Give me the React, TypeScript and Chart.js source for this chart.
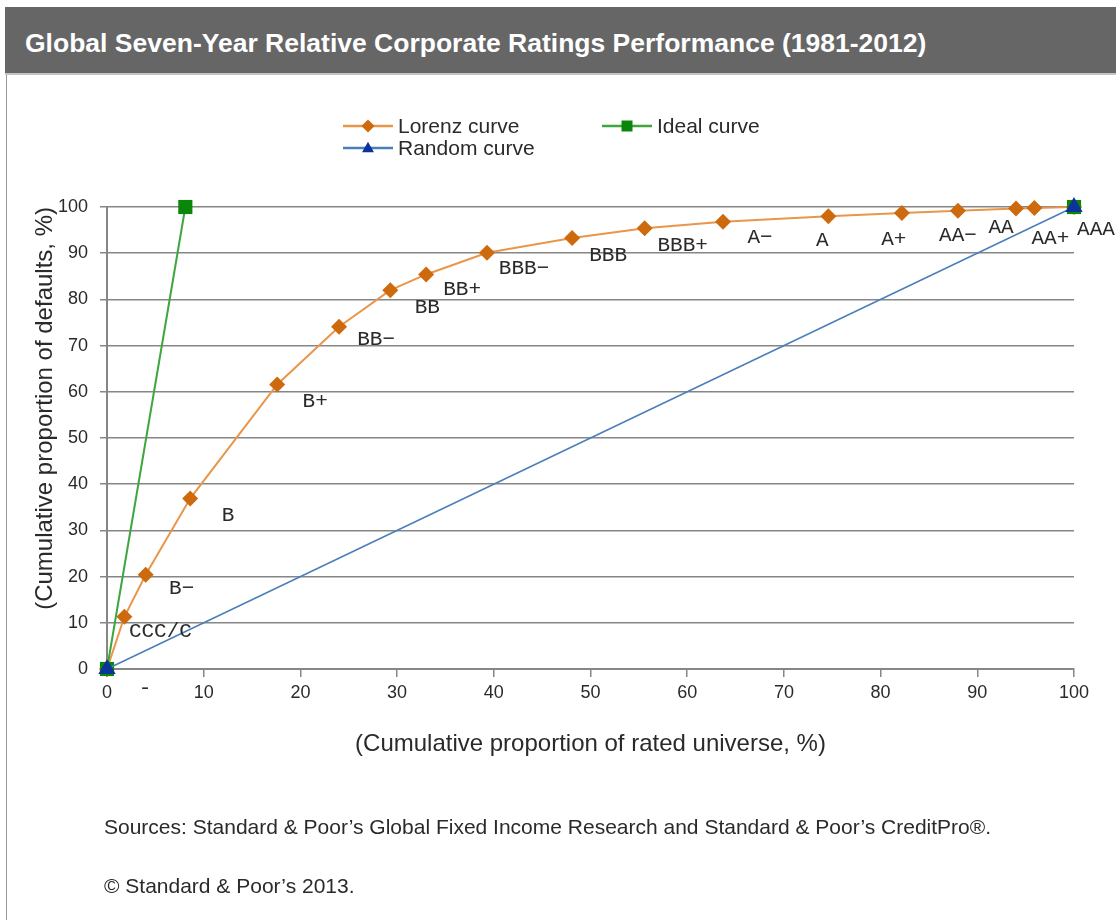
import React, { useEffect, useRef } from 'react';
import { Chart, registerables } from 'chart.js';

Chart.register(...registerables);

// ---------- Data ----------
const TITLE = 'Global Seven-Year Relative Corporate Ratings Performance (1981-2012)';
const X_TITLE = '(Cumulative proportion of rated universe, %)';
const Y_TITLE = '(Cumulative proportion of defaults, %)';
const SOURCES = 'Sources: Standard & Poor\u2019s Global Fixed Income Research and Standard & Poor\u2019s CreditPro\u00AE.';
const COPYRIGHT = '\u00A9 Standard & Poor\u2019s 2013.';

const SERIES_NAMES = ['Lorenz curve', 'Ideal curve', 'Random curve'];

const lorenzX = [0, 1.8, 4.0, 8.6, 17.6, 24.0, 29.3, 33.0, 39.3, 48.1, 55.6, 63.7, 74.6, 82.2, 88.0, 94.0, 95.9, 100];
const lorenzY = [0, 11.3, 20.4, 36.9, 61.6, 74.1, 82.0, 85.4, 90.1, 93.3, 95.4, 96.8, 98.0, 98.7, 99.2, 99.7, 99.8, 100];
const ratingLabels = ['-', 'CCC/C', 'B\u2212', 'B', 'B+', 'BB\u2212', 'BB', 'BB+', 'BBB\u2212', 'BBB', 'BBB+', 'A\u2212', 'A', 'A+', 'AA\u2212', 'AA', 'AA+', 'AAA'];

const idealX = [0, 8.1, 100];
const idealY = [0, 100, 100];

const randomX = [0, 100];
const randomY = [0, 100];

const AXIS_MIN = 0;
const AXIS_MAX = 100;
const AXIS_STEP = 10;

// ---------- Styling / placement (not data) ----------
const LABEL_OFFSETS: [number, number][] = [
  [38, 19], [36, 15], [36, 14], [38, 17], [38, 17], [37, 13], [37, 17], [36, 15], [37, 16],
  [36, 17], [38, 17], [37, 16], [-6, 24], [-8, 26], [0, 25], [-15, 19], [16, 31], [22, 22],
];
const LEGEND_POS = [
  { x: 343, y: 126 },
  { x: 602, y: 126 },
  { x: 343, y: 148 },
];
const COLORS = {
  lorenzLine: '#E8964A',
  lorenzPoint: '#CD6A0E',
  idealLine: '#3FA63F',
  idealPoint: '#0A860A',
  randomLine: '#4A7EBB',
  randomPoint: '#0B3399',
  grid: '#868686',
  text: '#2a2a2a',
};
const SANS = '"Liberation Sans", Arial, sans-serif';
const MONO = '"Liberation Mono", "Courier New", monospace';

const toPoints = (xs: number[], ys: number[]) => xs.map((x, i) => ({ x, y: ys[i] }));

function drawMarker(ctx: CanvasRenderingContext2D, style: string, x: number, y: number, r: number, color: string) {
  ctx.save();
  ctx.fillStyle = color;
  ctx.beginPath();
  if (style === 'rectRot') {
    ctx.moveTo(x, y - r);
    ctx.lineTo(x + r, y);
    ctx.lineTo(x, y + r);
    ctx.lineTo(x - r, y);
  } else if (style === 'rect') {
    ctx.rect(x - r, y - r, 2 * r, 2 * r);
  } else {
    const h = r * 1.5;
    ctx.moveTo(x, y - h * 0.6);
    ctx.lineTo(x + r * 0.85, y + h * 0.4);
    ctx.lineTo(x - r * 0.85, y + h * 0.4);
  }
  ctx.closePath();
  ctx.fill();
  ctx.restore();
}

const ratingLabelPlugin = {
  id: 'ratingLabels',
  afterDatasetsDraw(chart: any) {
    const ctx = chart.ctx as CanvasRenderingContext2D;
    const meta = chart.getDatasetMeta(0);
    ctx.save();
    ctx.font = `21px ${MONO}`;
    ctx.fillStyle = COLORS.text;
    ctx.textAlign = 'center';
    ctx.textBaseline = 'middle';
    meta.data.forEach((pt: any, i: number) => {
      const [dx, dy] = LABEL_OFFSETS[i] || [30, 15];
      ctx.fillText(ratingLabels[i], pt.x + dx, pt.y + dy);
    });
    ctx.restore();
  },
};

const legendPlugin = {
  id: 'customLegend',
  afterDraw(chart: any) {
    const ctx = chart.ctx as CanvasRenderingContext2D;
    const markerSizes = [6.5, 5.5, 7];
    chart.data.datasets.forEach((ds: any, i: number) => {
      const p = LEGEND_POS[i];
      ctx.save();
      ctx.strokeStyle = ds.borderColor;
      ctx.lineWidth = 2.5;
      ctx.beginPath();
      ctx.moveTo(p.x, p.y);
      ctx.lineTo(p.x + 50, p.y);
      ctx.stroke();
      drawMarker(ctx, ds.pointStyle, p.x + 25, p.y, markerSizes[i], ds.pointBackgroundColor);
      ctx.font = `21px ${SANS}`;
      ctx.fillStyle = COLORS.text;
      ctx.textAlign = 'left';
      ctx.textBaseline = 'middle';
      ctx.fillText(ds.label, p.x + 55, p.y + 1);
      ctx.restore();
    });
  },
};

export default function App() {
  const canvasRef = useRef<HTMLCanvasElement | null>(null);

  useEffect(() => {
    if (!canvasRef.current) return;
    const chart = new Chart(canvasRef.current, {
      type: 'scatter',
      data: {
        datasets: [
          {
            label: SERIES_NAMES[0],
            data: toPoints(lorenzX, lorenzY),
            showLine: true,
            borderColor: COLORS.lorenzLine,
            borderWidth: 2,
            pointStyle: 'rectRot',
            pointRadius: 8,
            pointBackgroundColor: COLORS.lorenzPoint,
            pointBorderColor: COLORS.lorenzPoint,
            pointBorderWidth: 0,
            clip: false,
            order: 3,
          },
          {
            label: SERIES_NAMES[1],
            data: toPoints(idealX, idealY),
            showLine: true,
            borderColor: COLORS.idealLine,
            borderWidth: 2,
            segment: {
              borderColor: (c: any) => (c.p0DataIndex >= 1 ? 'rgba(0,0,0,0)' : undefined),
            },
            pointStyle: 'rect',
            pointRadius: 10,
            pointBackgroundColor: COLORS.idealPoint,
            pointBorderColor: COLORS.idealPoint,
            pointBorderWidth: 0,
            clip: false,
            order: 2,
          },
          {
            label: SERIES_NAMES[2],
            data: toPoints(randomX, randomY),
            showLine: true,
            borderColor: COLORS.randomLine,
            borderWidth: 1.5,
            pointStyle: 'triangle',
            pointRadius: 10,
            pointBackgroundColor: COLORS.randomPoint,
            pointBorderColor: COLORS.randomPoint,
            pointBorderWidth: 0,
            clip: false,
            order: 1,
          },
        ] as any,
      },
      options: {
        animation: false,
        responsive: false,
        maintainAspectRatio: false,
        layout: { padding: { left: 0, top: 207, right: 42, bottom: 151 } },
        plugins: {
          legend: { display: false },
          tooltip: { enabled: false },
          title: { display: false },
        },
        scales: {
          x: {
            type: 'linear',
            min: AXIS_MIN,
            max: AXIS_MAX,
            afterFit: (s: any) => { s.height = 100; },
            ticks: {
              stepSize: AXIS_STEP,
              padding: 5,
              color: COLORS.text,
              font: { family: SANS, size: 18 },
              maxRotation: 0,
            },
            grid: { drawOnChartArea: false, drawTicks: true, tickLength: 8, color: COLORS.grid, lineWidth: 1.5 },
            border: { color: COLORS.grid, width: 2 },
            title: {
              display: true,
              text: X_TITLE,
              color: COLORS.text,
              font: { family: SANS, size: 24 },
              padding: { top: 0, bottom: 10 },
            },
          },
          y: {
            type: 'linear',
            min: AXIS_MIN,
            max: AXIS_MAX,
            afterFit: (s: any) => { s.width = 107; },
            ticks: {
              stepSize: AXIS_STEP,
              padding: 12,
              color: COLORS.text,
              font: { family: SANS, size: 18 },
            },
            grid: { color: COLORS.grid, lineWidth: 1.5, tickLength: 7 },
            border: { color: COLORS.grid, width: 2 },
            title: {
              display: true,
              text: Y_TITLE,
              align: 'end',
              color: COLORS.text,
              font: { family: SANS, size: 24 },
              padding: { top: 31, bottom: 0 },
            },
          },
        },
      } as any,
      plugins: [ratingLabelPlugin, legendPlugin],
    });
    return () => chart.destroy();
  }, []);

  return (
    <div>
      <div
        style={{
          position: 'absolute', left: 6, top: 74, width: 1, height: 846, background: '#9a9a9a',
        }}
      />
      <div
        style={{
          position: 'absolute', left: 5, top: 7, width: 1111, height: 66,
          background: '#666666', borderBottom: '2px solid #c4c4c4',
        }}
      >
        <div
          style={{
            position: 'absolute', left: 20, top: 21, color: '#ffffff',
            fontFamily: SANS, fontWeight: 'bold', fontSize: 26.5, lineHeight: '30px', whiteSpace: 'nowrap',
          }}
        >
          {TITLE}
        </div>
      </div>
      <canvas
        ref={canvasRef}
        width={1116}
        height={920}
        style={{ position: 'absolute', left: 0, top: 0, width: 1116, height: 920 }}
      />
      <div
        style={{
          position: 'absolute', left: 104, top: 815, color: COLORS.text, fontFamily: SANS,
          fontSize: 21, lineHeight: '24px', whiteSpace: 'nowrap',
        }}
      >
        {SOURCES}
      </div>
      <div
        style={{
          position: 'absolute', left: 104, top: 874, color: COLORS.text, fontFamily: SANS,
          fontSize: 21, lineHeight: '24px', whiteSpace: 'nowrap',
        }}
      >
        {COPYRIGHT}
      </div>
    </div>
  );
}
